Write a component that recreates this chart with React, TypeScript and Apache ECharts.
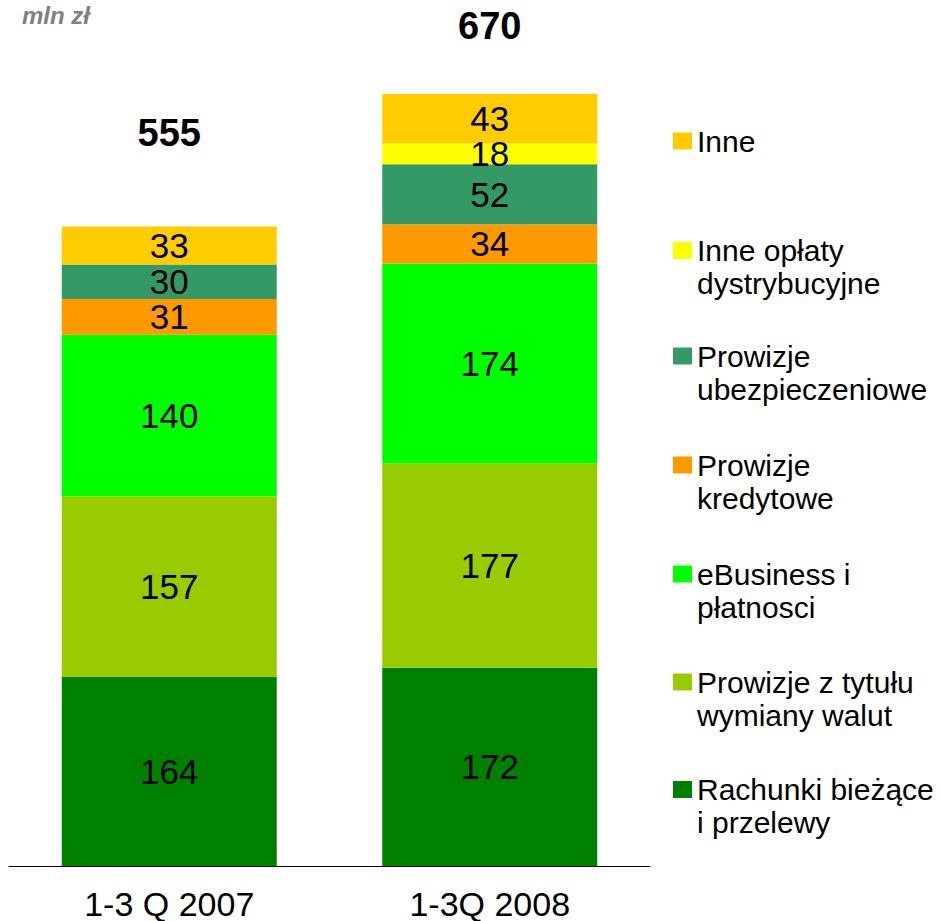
import React, { useEffect, useRef } from "react";
import * as echarts from "echarts";

const categories = ["1-3 Q 2007", "1-3Q 2008"];
const rachunki = [164, 172];
const wymiana = [157, 177];
const ebusiness = [140, 174];
const kredytowe = [31, 34];
const ubezpieczeniowe = [30, 52];
const inneOplaty = [null, 18];
const inne = [33, 43];
const totals = [555, 670];

const seriesDefs = [
  { name: "Rachunki bieżące\ni przelewy", data: rachunki, color: "#008000" },
  { name: "Prowizje z tytułu\nwymiany walut", data: wymiana, color: "#99CC00" },
  { name: "eBusiness i\npłatnosci", data: ebusiness, color: "#00FF00" },
  { name: "Prowizje\nkredytowe", data: kredytowe, color: "#FF9900" },
  { name: "Prowizje\nubezpieczeniowe", data: ubezpieczeniowe, color: "#339966" },
  { name: "Inne opłaty\ndystrybucyjne", data: inneOplaty, color: "#FFFF00" },
  { name: "Inne", data: inne, color: "#FFCC00" },
];

const FONT = "'Liberation Sans', Arial, sans-serif";

export default function App() {
  const ref = useRef<HTMLDivElement>(null);

  useEffect(() => {
    document.body.style.margin = "0";
    if (!ref.current) return;
    const chart = echarts.init(ref.current, undefined, { renderer: "svg" });

    const legendOrder = [...seriesDefs].reverse();
    const legendCenters = [141, 250.5, 356, 465, 574, 682, 789.5];
    const LH = 33;
    const legends = legendOrder.map((s, i) => {
      const twoLine = s.name.includes("\n");
      return {
        data: [s.name],
        orient: "vertical",
        left: 673,
        top: twoLine ? legendCenters[i] - 1.5 * LH : legendCenters[i] - LH / 2,
        padding: 0,
        itemWidth: 19,
        itemHeight: 17,
        icon: "rect",
        selectedMode: false,
        formatter: twoLine ? (name: string) => "\n" + name : "{name}",
        textStyle: {
          fontFamily: FONT,
          fontSize: 30,
          lineHeight: LH,
          color: "#000",
        },
      };
    });

    const barSeries = seriesDefs.map((s) => ({
      name: s.name,
      type: "bar",
      stack: "total",
      barWidth: 215,
      data: s.data,
      itemStyle: { color: s.color },
      label: {
        show: true,
        position: "inside",
        fontFamily: FONT,
        fontSize: 35,
        lineHeight: 24,
        color: "#000",
      },
    }));

    const totalDistances = [75, 49];
    const totalSeries = {
      name: "Suma",
      type: "bar",
      stack: "total",
      barWidth: 215,
      data: totals.map((t, i) => ({
        value: 0,
        label: { distance: totalDistances[i] },
      })),
      itemStyle: { color: "transparent" },
      label: {
        show: true,
        position: "top",
        fontFamily: FONT,
        fontSize: 38,
        fontWeight: "bold",
        color: "#000",
        formatter: (p: any) => String(totals[p.dataIndex]),
      },
    };

    chart.setOption({
      animation: false,
      title: {
        text: "mln zł",
        left: 22,
        top: 3,
        padding: 0,
        textStyle: {
          fontFamily: FONT,
          fontSize: 24,
          fontWeight: "bold",
          fontStyle: "italic",
          color: "#808080",
        },
      },
      legend: legends,
      grid: { left: 9, right: 291, top: 94, bottom: 54, containLabel: false },
      xAxis: {
        type: "category",
        data: categories,
        axisLine: { show: true, lineStyle: { color: "#000", width: 1 } },
        axisTick: { show: false },
        axisLabel: {
          fontFamily: FONT,
          fontSize: 34,
          lineHeight: 28,
          color: "#000",
          margin: 24,
        },
      },
      yAxis: {
        type: "value",
        min: 0,
        max: 670,
        show: false,
        splitLine: { show: false },
      },
      series: [...barSeries, totalSeries],
    });

    return () => chart.dispose();
  }, []);

  return <div ref={ref} style={{ width: 941, height: 921 }} />;
}
